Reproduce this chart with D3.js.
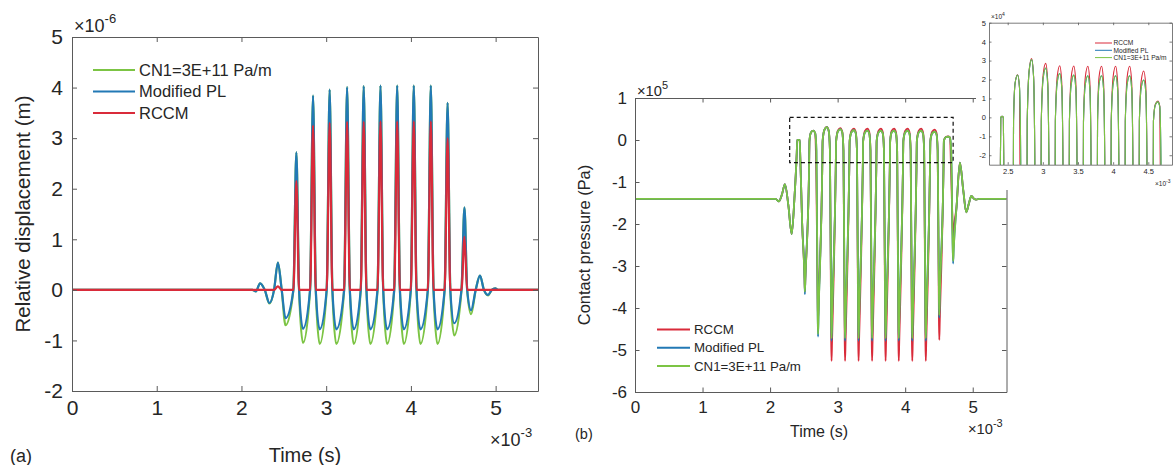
<!DOCTYPE html>
<html>
<head>
<meta charset="utf-8">
<script src="https://cdn.jsdelivr.net/npm/d3@7"></script>
<style>
  body { margin: 0; background: #fff; }
  svg { display: block; }
</style>
</head>
<body>
<svg id="fig" width="1174" height="465"></svg>
<script>
// ---------- (a) relative displacement, time in ms, values in µm ----------
const dispTime = [0, 2.13, 2.17, 2.22, 2.275, 2.33, 2.385, 2.43, 2.475, 2.52,
  2.613, 2.648, 2.68, 2.726,
  2.81, 2.845, 2.877, 2.923,
  3.006, 3.041, 3.073, 3.119,
  3.212, 3.247, 3.279, 3.325,
  3.408, 3.443, 3.475, 3.521,
  3.606, 3.641, 3.673, 3.719,
  3.803, 3.838, 3.87, 3.916,
  3.999, 4.034, 4.066, 4.112,
  4.2, 4.235, 4.267, 4.313,
  4.398, 4.433, 4.465, 4.511,
  4.597, 4.632, 4.664, 4.71,
  4.765, 4.815, 4.862, 4.91,
  4.955, 4.995, 5.03, 5.5];
const dispCN1 = [0, 0, -0.03, 0.13, 0, -0.27, 0, 0.54, 0, -0.70,
  0, 2.72, 0, -1.05,
  0, 3.84, 0, -1.07,
  0, 3.96, 0, -1.07,
  0, 4.01, 0, -1.07,
  0, 4.03, 0, -1.07,
  0, 4.04, 0, -1.07,
  0, 4.04, 0, -1.07,
  0, 4.04, 0, -1.07,
  0, 4.04, 0, -1.07,
  0, 3.70, 0, -0.90,
  0, 1.63, 0, -0.48,
  0, 0.28, 0, -0.11,
  0, 0.03, 0, 0];
const dispPL = [0, 0, -0.03, 0.13, 0, -0.26, 0, 0.54, 0, -0.56,
  0, 2.72, 0, -0.77,
  0, 3.84, 0, -0.78,
  0, 3.96, 0, -0.78,
  0, 4.01, 0, -0.78,
  0, 4.03, 0, -0.78,
  0, 4.04, 0, -0.78,
  0, 4.04, 0, -0.78,
  0, 4.04, 0, -0.78,
  0, 4.04, 0, -0.78,
  0, 3.70, 0, -0.66,
  0, 1.63, 0, -0.40,
  0, 0.28, 0, -0.10,
  0, 0.03, 0, 0];
const dispRCCM = [0, 0, 0, 0, 0, 0, 0, 0.07, 0, 0,
  0, 2.15, 0, 0,
  0, 3.25, 0, 0,
  0, 3.30, 0, 0,
  0, 3.32, 0, 0,
  0, 3.32, 0, 0,
  0, 3.33, 0, 0,
  0, 3.33, 0, 0,
  0, 3.33, 0, 0,
  0, 3.33, 0, 0,
  0, 3.00, 0, 0,
  0, 1.05, 0, 0,
  0, 0, 0, 0,
  0, 0, 0, 0];

// ---------- (b) contact pressure, time in ms, values in 1e5 Pa ----------
const presTime = [0, 2.08, 2.13, 2.175, 2.22, 2.27, 2.32, 2.36, 2.395, 2.402, 2.42, 2.438, 2.445, 2.475, 2.51, 2.515, 2.522,
  2.577, 2.583, 2.605, 2.64, 2.668, 2.686, 2.705, 2.71, 2.717,
  2.772, 2.778, 2.805, 2.84, 2.868, 2.886, 2.905, 2.91, 2.917,
  2.972, 2.978, 3.005, 3.04, 3.068, 3.086, 3.105, 3.11, 3.117,
  3.172, 3.178, 3.205, 3.24, 3.268, 3.286, 3.305, 3.31, 3.317,
  3.372, 3.378, 3.405, 3.44, 3.468, 3.486, 3.505, 3.51, 3.517,
  3.572, 3.578, 3.605, 3.64, 3.668, 3.686, 3.705, 3.71, 3.717,
  3.772, 3.778, 3.80, 3.835, 3.863, 3.881, 3.90, 3.905, 3.912,
  3.967, 3.973, 4.0, 4.035, 4.063, 4.081, 4.10, 4.105, 4.112,
  4.167, 4.173, 4.2, 4.235, 4.263, 4.281, 4.30, 4.305, 4.312,
  4.367, 4.373, 4.40, 4.435, 4.463, 4.481, 4.50, 4.505, 4.512,
  4.567, 4.573, 4.60, 4.635, 4.663, 4.681, 4.703, 4.71, 4.718,
  4.76, 4.81, 4.86, 4.905, 4.945, 4.98, 5.02, 5.05, 5.1, 5.5];
const presRCCM = [-1.40, -1.40, -1.46, -1.30, -1.05, -1.55, -2.24, -1.40, -0.30, 0.0, 0.005, 0.0, -0.30, -2.0, -3.3, -3.61, -3.3,
  -0.70, -0.02, 0.18, 0.225, 0.158, -1.0, -3.9, -4.30, -3.9,
  -0.70, -0.02, 0.248, 0.31, 0.217, -0.25, -4.81, -5.26, -4.81,
  -0.70, -0.02, 0.228, 0.285, 0.20, -0.25, -4.81, -5.26, -4.81,
  -0.70, -0.02, 0.218, 0.273, 0.191, -0.25, -4.81, -5.26, -4.81,
  -0.70, -0.02, 0.217, 0.271, 0.19, -0.25, -4.81, -5.26, -4.81,
  -0.70, -0.02, 0.216, 0.27, 0.189, -0.25, -4.81, -5.26, -4.81,
  -0.70, -0.02, 0.216, 0.27, 0.189, -0.25, -4.81, -5.26, -4.81,
  -0.70, -0.02, 0.216, 0.27, 0.189, -0.25, -4.81, -5.26, -4.81,
  -0.70, -0.02, 0.216, 0.27, 0.189, -0.25, -4.81, -5.26, -4.81,
  -0.70, -0.02, 0.196, 0.245, 0.172, -0.25, -4.31, -4.76, -4.31,
  -0.70, -0.02, 0.069, 0.086, 0.06, -0.80, -2.10, -2.45, -2.20,
  -1.60, -0.54, -1.20, -1.72, -1.50, -1.33, -1.40, -1.42, -1.40, -1.40];
const presPL = [-1.40, -1.40, -1.46, -1.30, -1.05, -1.55, -2.24, -1.40, -0.30, 0.0, 0.005, 0.0, -0.30, -2.0, -3.3, -3.67, -3.3,
  -0.70, -0.02, 0.18, 0.224, 0.157, -0.25, -4.17, -4.68, -4.17,
  -0.70, -0.02, 0.244, 0.305, 0.214, -0.25, -4.27, -4.78, -4.27,
  -0.70, -0.02, 0.208, 0.26, 0.182, -0.25, -4.27, -4.78, -4.27,
  -0.70, -0.02, 0.186, 0.232, 0.162, -0.25, -4.27, -4.78, -4.27,
  -0.70, -0.02, 0.178, 0.223, 0.156, -0.25, -4.27, -4.78, -4.27,
  -0.70, -0.02, 0.176, 0.22, 0.154, -0.25, -4.27, -4.78, -4.27,
  -0.70, -0.02, 0.176, 0.22, 0.154, -0.25, -4.27, -4.78, -4.27,
  -0.70, -0.02, 0.176, 0.22, 0.154, -0.25, -4.27, -4.78, -4.27,
  -0.70, -0.02, 0.176, 0.22, 0.154, -0.25, -4.27, -4.78, -4.27,
  -0.70, -0.02, 0.158, 0.197, 0.138, -0.25, -3.72, -4.23, -3.72,
  -0.70, -0.02, 0.066, 0.082, 0.057, -0.25, -2.50, -2.94, -2.60,
  -1.60, -0.54, -1.20, -1.72, -1.50, -1.33, -1.40, -1.42, -1.40, -1.40];
const presCN1 = [-1.40, -1.40, -1.46, -1.30, -1.05, -1.55, -2.24, -1.40, -0.30, 0.0, 0.005, 0.0, -0.30, -2.0, -3.3, -3.61, -3.3,
  -0.70, -0.02, 0.18, 0.224, 0.157, -0.25, -4.17, -4.62, -4.17,
  -0.70, -0.02, 0.244, 0.305, 0.214, -0.25, -4.27, -4.72, -4.27,
  -0.70, -0.02, 0.208, 0.26, 0.182, -0.25, -4.27, -4.72, -4.27,
  -0.70, -0.02, 0.186, 0.232, 0.162, -0.25, -4.27, -4.72, -4.27,
  -0.70, -0.02, 0.178, 0.223, 0.156, -0.25, -4.27, -4.72, -4.27,
  -0.70, -0.02, 0.176, 0.22, 0.154, -0.25, -4.27, -4.72, -4.27,
  -0.70, -0.02, 0.176, 0.22, 0.154, -0.25, -4.27, -4.72, -4.27,
  -0.70, -0.02, 0.176, 0.22, 0.154, -0.25, -4.27, -4.72, -4.27,
  -0.70, -0.02, 0.176, 0.22, 0.154, -0.25, -4.27, -4.72, -4.27,
  -0.70, -0.02, 0.158, 0.197, 0.138, -0.25, -3.72, -4.17, -3.72,
  -0.70, -0.02, 0.066, 0.082, 0.057, -0.25, -2.50, -2.88, -2.60,
  -1.60, -0.54, -1.20, -1.72, -1.50, -1.33, -1.40, -1.42, -1.40, -1.40];

// ---------- axes ranges, ticks and labels ----------
const timeDomain = [0, 5.5];
const timeTicks = [0, 1, 2, 3, 4, 5];
const dispDomain = [-2, 5];
const dispTicks = [-2, -1, 0, 1, 2, 3, 4, 5];
const presDomain = [-6, 1];
const presTicks = [-6, -5, -4, -3, -2, -1, 0, 1];
const zoomTime = [2.29, 4.71];       // dashed window, ms
const zoomPres = [-0.54, 0.54];      // dashed window, 1e5 Pa
const insetTime = [2.234, 4.837];
const insetDomain = [-2.5, 5];       // units of 1e4 Pa
const insetTicksX = [2.5, 3, 3.5, 4, 4.5];
const insetTicksY = [-2, -1, 0, 1, 2, 3, 4, 5];

const names = { cn1: "CN1=3E+11 Pa/m", pl: "Modified PL", rccm: "RCCM" };
const colors = { cn1: "#7cc444", pl: "#2279b5", rccm: "#d92b3a" };

const FONT = '"Liberation Sans", Arial, Helvetica, sans-serif';
const INK = "#262626";
const AXIS = "#5a5a5a";

const svg = d3.select("#fig").attr("font-family", FONT);
const defs = svg.append("defs");

function clipFor(id, x, y) {
  const [x0, x1] = x.range(), [y0, y1] = y.range();
  defs.append("clipPath").attr("id", id).append("rect")
    .attr("x", x0).attr("y", y1).attr("width", x1 - x0).attr("height", y0 - y1);
}

// boxed axes with inward ticks on all four sides
function frame(g, x, y, xt, yt, o) {
  const [x0, x1] = x.range(), [y0, y1] = y.range();
  const fmt = d => String(d);
  const specs = [
    [d3.axisBottom(x).tickValues(xt).tickFormat(fmt), `translate(0,${y0})`],
    [d3.axisTop(x).tickValues(xt).tickFormat(() => ""), `translate(0,${y1})`],
    [d3.axisLeft(y).tickValues(yt).tickFormat(fmt), `translate(${x0},0)`],
    [d3.axisRight(y).tickValues(yt).tickFormat(() => ""), `translate(${x1},0)`]
  ];
  specs.forEach(([ax, tr], i) => {
    const a = g.append("g").attr("transform", tr)
      .call(ax.tickSizeInner(-o.tick).tickSizeOuter(0).tickPadding(i === 0 ? o.padX : o.padY));
    a.attr("font-family", FONT).attr("font-size", o.font);
    a.select(".domain").attr("stroke", AXIS).attr("stroke-width", o.sw);
    a.selectAll(".tick line").attr("stroke", AXIS).attr("stroke-width", o.sw);
    a.selectAll(".tick text").attr("fill", INK);
  });
}

function trace(g, x, y, t, v, color, w, clipId) {
  const line = d3.line()
    .x(i => x(t[i]))
    .y(i => y(v[i]))
    .curve(d3.curveMonotoneX);
  g.append("path")
    .attr("d", line(d3.range(t.length)))
    .attr("fill", "none")
    .attr("stroke", color)
    .attr("stroke-width", w)
    .attr("stroke-linejoin", "round")
    .attr("clip-path", `url(#${clipId})`);
}

function legend(g, keys, o) {
  keys.forEach((k, i) => {
    const yy = o.y0 + i * o.dy;
    g.append("line").attr("x1", o.x1).attr("x2", o.x2).attr("y1", yy).attr("y2", yy)
      .attr("stroke", colors[k]).attr("stroke-width", o.w);
    g.append("text").attr("x", o.tx).attr("y", yy).attr("dy", "0.36em")
      .attr("font-size", o.font).attr("fill", INK).text(names[k]);
  });
}

function exponent(g, x, y, base, sup, size, supSize, rise) {
  const t = g.append("text").attr("x", x).attr("y", y).attr("font-size", size).attr("fill", INK);
  t.append("tspan").text(base);
  t.append("tspan").attr("dy", -rise).attr("font-size", supSize).text(sup);
}

// ================= panel (a) =================
{
  const g = svg.append("g");
  const x = d3.scaleLinear(timeDomain, [72, 538]);
  const y = d3.scaleLinear(dispDomain, [391, 37]);
  clipFor("clipA", x, y);
  trace(g, x, y, dispTime, dispCN1, colors.cn1, 2.2, "clipA");
  trace(g, x, y, dispTime, dispPL, colors.pl, 2.2, "clipA");
  trace(g, x, y, dispTime, dispRCCM, colors.rccm, 2.2, "clipA");
  frame(g, x, y, timeTicks, dispTicks, { tick: 5, padX: 9, padY: 9, font: 21, sw: 1 });
  legend(g, ["cn1", "pl", "rccm"], { x1: 93, x2: 135, tx: 139, y0: 70, dy: 21.5, w: 2, font: 16.5 });
  exponent(g, 74, 32, "×10", "-6", 18, 13, 9);
  exponent(g, 490, 446, "×10", "-3", 18, 13, 9);
  g.append("text").attr("x", 305).attr("y", 462).attr("text-anchor", "middle")
    .attr("font-size", 20).attr("fill", INK).text("Time (s)");
  g.append("text").attr("x", 10).attr("y", 462)
    .attr("font-size", 18).attr("fill", INK).text("(a)");
  g.append("text").attr("transform", "translate(23,214) rotate(-90)").attr("dy", "0.35em")
    .attr("text-anchor", "middle").attr("font-size", 20.5).attr("fill", INK)
    .text("Relative displacement (m)");
}

// ================= panel (b) =================
{
  const g = svg.append("g");
  const x = d3.scaleLinear(timeDomain, [635, 1006.5]);
  const y = d3.scaleLinear(presDomain, [392, 98]);
  clipFor("clipB", x, y);
  trace(g, x, y, presTime, presRCCM, colors.rccm, 1.8, "clipB");
  trace(g, x, y, presTime, presPL, colors.pl, 1.8, "clipB");
  trace(g, x, y, presTime, presCN1, colors.cn1, 1.8, "clipB");
  frame(g, x, y, timeTicks, presTicks, { tick: 4.5, padX: 9, padY: 8, font: 17, sw: 1 });
  // dashed zoom window
  g.append("rect")
    .attr("x", x(zoomTime[0])).attr("y", y(zoomPres[1]))
    .attr("width", x(zoomTime[1]) - x(zoomTime[0]))
    .attr("height", y(zoomPres[0]) - y(zoomPres[1]))
    .attr("fill", "none").attr("stroke", "#111").attr("stroke-width", 1.2)
    .attr("stroke-dasharray", "4,3");
  legend(g, ["rccm", "pl", "cn1"], { x1: 657, x2: 690, tx: 694, y0: 329.5, dy: 18.2, w: 2, font: 13.3 });
  exponent(g, 637, 96, "×10", "5", 14.7, 11, 7);
  exponent(g, 968, 434, "×10", "-3", 14.7, 11, 7);
  g.append("text").attr("x", 819).attr("y", 437).attr("text-anchor", "middle")
    .attr("font-size", 16).attr("fill", INK).text("Time (s)");
  g.append("text").attr("x", 575).attr("y", 439)
    .attr("font-size", 14.5).attr("fill", INK).text("(b)");
  g.append("text").attr("transform", "translate(584,245) rotate(-90)").attr("dy", "0.35em")
    .attr("text-anchor", "middle").attr("font-size", 16.4).attr("fill", INK)
    .text("Contact pressure (Pa)");
}

// ================= inset: close-up of the dashed window =================
{
  const g = svg.append("g");
  g.append("rect").attr("x", 976).attr("y", 0).attr("width", 198).attr("height", 190).attr("fill", "#fff");
  const x = d3.scaleLinear(insetTime, [989, 1172]);
  const y = d3.scaleLinear(insetDomain, [164.7, 22.7]);
  const y4 = v => y(v * 10);   // series are in 1e5 Pa, inset reads in 1e4 Pa
  clipFor("clipC", x, y);
  trace(g, x, y4, presTime, presRCCM, colors.rccm, 1.1, "clipC");
  trace(g, x, y4, presTime, presPL, colors.pl, 1.1, "clipC");
  trace(g, x, y4, presTime, presCN1, colors.cn1, 1.1, "clipC");
  frame(g, x, y, insetTicksX, insetTicksY, { tick: 2.5, padX: 4, padY: 3, font: 7.5, sw: 0.8 });
  legend(g, ["rccm", "pl", "cn1"], { x1: 1095, x2: 1112, tx: 1113.5, y0: 43, dy: 7.3, w: 1, font: 6.6 });
  exponent(g, 991, 19, "×10", "4", 6.5, 5, 3);
  exponent(g, 1155, 186, "×10", "-3", 6.5, 5, 3);
}
</script>
</body>
</html>
